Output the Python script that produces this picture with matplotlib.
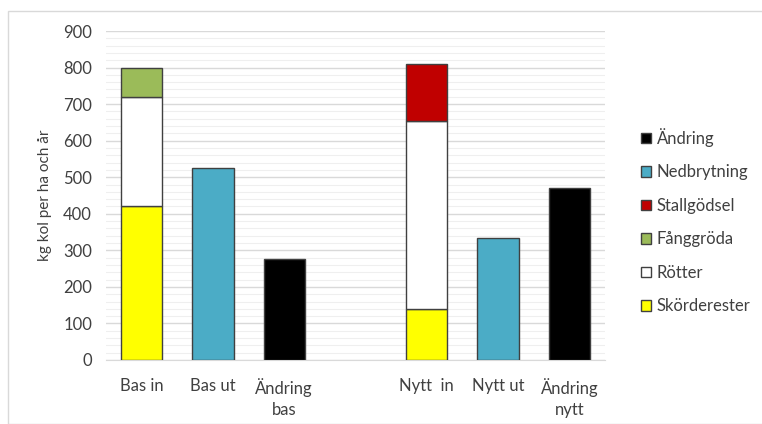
import matplotlib
matplotlib.use("Agg")
import matplotlib.pyplot as plt
from matplotlib.patches import Patch, Rectangle
from matplotlib.ticker import MultipleLocator
import numpy as np

plt.rcParams['font.family'] = ['Lato', 'DejaVu Sans']

categories = ["Bas in", "Bas ut", "Ändring\nbas", "", "Nytt  in", "Nytt ut", "Ändring\nnytt"]

# stacked components, bottom to top
skorderester = [420, 0, 0, 0, 140, 0, 0]
rotter       = [300, 0, 0, 0, 515, 0, 0]
fanggroda    = [80, 0, 0, 0, 0, 0, 0]
stallgodsel  = [0, 0, 0, 0, 155, 0, 0]
nedbrytning  = [0, 525, 0, 0, 0, 335, 0]
andring      = [0, 0, 275, 0, 0, 0, 470]

series = [
    ("Skörderester", skorderester, "#FFFF00"),
    ("Rötter", rotter, "#FFFFFF"),
    ("Fånggröda", fanggroda, "#9BBB59"),
    ("Stallgödsel", stallgodsel, "#C00000"),
    ("Nedbrytning", nedbrytning, "#4BACC6"),
    ("Ändring", andring, "#000000"),
]

fig = plt.figure(figsize=(7.62, 4.24), dpi=100)
fig.patches.append(Rectangle((8 / 762, 0), 1, 1 - 11 / 424, transform=fig.transFigure,
                             fill=False, edgecolor="#d9d9d9", linewidth=1.0))
ax = fig.add_axes([106 / 762, 1 - 360 / 424, (605 - 106) / 762, (360 - 31) / 424])

x = np.arange(len(categories))
bottom = np.zeros(len(categories))
for name, vals, color in series:
    vals = np.array(vals, dtype=float)
    mask = vals > 0
    ax.bar(x[mask], vals[mask], width=0.58, bottom=bottom[mask], color=color,
           edgecolor="#404040", linewidth=1.0, zorder=3)
    bottom += vals

ax.set_xlim(-0.5, 6.5)
ax.set_ylim(0, 900)
ax.yaxis.set_major_locator(MultipleLocator(100))
ax.yaxis.set_minor_locator(MultipleLocator(20))
ax.grid(which="major", axis="y", color="#d9d9d9", linewidth=1.0, zorder=0)
ax.grid(which="minor", axis="y", color="#efefef", linewidth=0.8, zorder=0)
ax.set_xticks(x)
ax.set_xticklabels(categories, fontsize=12, color="#404040", linespacing=1.35)
ax.tick_params(axis="both", which="both", length=0)
ax.tick_params(axis="x", pad=13)
ax.tick_params(axis="y", pad=10, labelsize=12, labelcolor="#404040")
for side in ("top", "right", "left"):
    ax.spines[side].set_visible(False)
ax.spines["bottom"].set_color("#d9d9d9")
ax.set_ylabel("kg kol per ha och år", fontsize=11, color="#404040", labelpad=8)

handles = [Patch(facecolor=c, edgecolor="#404040", linewidth=1.0, label=n)
           for n, _, c in reversed(series)]
fig.legend(handles=handles, loc="center left", bbox_to_anchor=(626 / 762, 1 - 221 / 424),
           frameon=False, fontsize=12, handlelength=0.6, handleheight=0.6,
           handletextpad=0.35, labelspacing=1.05, labelcolor="#404040")

fig.savefig("out.png", dpi=100)
